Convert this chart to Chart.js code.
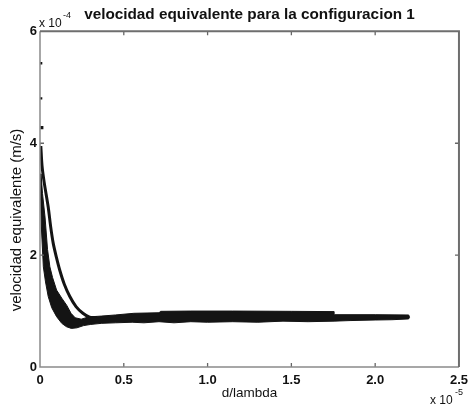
<!DOCTYPE html>
<html><head><meta charset="utf-8">
<script src="https://cdn.jsdelivr.net/npm/chart.js@4.4.1/dist/chart.umd.min.js"></script>
<style>html,body{margin:0;padding:0;background:#fff}</style>
</head><body>
<canvas id="c" width="474" height="409"></canvas>
<script>
// ---- data ----
const titleText = 'velocidad equivalente para la configuracion 1';
const xLabel = 'd/lambda';
const yLabel = 'velocidad equivalente (m/s)';
const xTickStep = 0.5, xMin = 0, xMax = 2.5;
const yTickStep = 2, yMin = 0, yMax = 6;
const xInnerTicks = [0.5, 1, 1.5, 2];
const yInnerTicks = [2, 4];

// isolated points near x = 0
const isoX = [0.007, 0.007, 0.011];
const isoY = [5.43, 4.80, 4.28];

// upper (thin) branch
const upperX = [0.005, 0.012, 0.025, 0.049, 0.064, 0.079, 0.098, 0.118, 0.145, 0.178, 0.215, 0.256, 0.296, 0.34];
const upperY = [3.95, 3.60, 3.30, 2.86, 2.50, 2.21, 1.96, 1.73, 1.48, 1.26, 1.08, 0.96, 0.89, 0.885];

// outline of the dense band (lower branch + plateau), traced around
const bandX = [0.002, 0.004, 0.009, 0.020, 0.033, 0.049, 0.070, 0.099, 0.130, 0.158, 0.187, 0.220, 0.260, 0.300, 0.365,
  0.450, 0.550, 0.620, 0.710, 0.800, 0.900, 1.000, 1.150, 1.300, 1.450, 1.600, 1.755, 1.850, 2.000, 2.100, 2.200,
  2.205, 2.200, 2.000, 1.760, 1.755, 1.500, 1.150, 0.900, 0.720, 0.710, 0.560, 0.450, 0.365, 0.290,
  0.246, 0.210, 0.185, 0.160, 0.130, 0.099, 0.075, 0.059, 0.045, 0.030, 0.015, 0.006, 0.002];
const bandY = [3.45, 2.98, 2.45, 1.79, 1.52, 1.26, 1.06, 0.90, 0.78, 0.72, 0.69, 0.70, 0.74, 0.76, 0.78,
  0.79, 0.80, 0.79, 0.81, 0.79, 0.81, 0.80, 0.81, 0.80, 0.82, 0.81, 0.82, 0.83, 0.84, 0.845, 0.86,
  0.89, 0.93, 0.935, 0.935, 0.99, 0.995, 1.00, 1.00, 0.995, 0.97, 0.96, 0.93, 0.91, 0.895,
  0.855, 0.88, 0.96, 1.10, 1.23, 1.375, 1.60, 1.79, 2.10, 2.68, 3.10, 3.45, 3.45];

const toPts = (xs, ys) => xs.map((x, i) => ({x: x, y: ys[i]}));
const INK = '#141414';
const FONT = 'Liberation Sans, Arial, Helvetica, sans-serif';

const framePlugin = {
  id: 'frame',
  afterDatasetsDraw(chart) {
    const {ctx, chartArea: a, scales} = chart;
    const xs = scales.x, ys = scales.y;
    ctx.save();
    // inward ticks
    ctx.strokeStyle = '#666';
    ctx.lineWidth = 1.3;
    ctx.beginPath();
    xInnerTicks.forEach(v => {
      const px = xs.getPixelForValue(v);
      ctx.moveTo(px, a.bottom); ctx.lineTo(px, a.bottom - 4);
      ctx.moveTo(px, a.top); ctx.lineTo(px, a.top + 4);
    });
    yInnerTicks.forEach(v => {
      const py = ys.getPixelForValue(v);
      ctx.moveTo(a.left, py); ctx.lineTo(a.left + 4, py);
      ctx.moveTo(a.right, py); ctx.lineTo(a.right - 4, py);
    });
    ctx.stroke();
    // box
    ctx.strokeStyle = '#8a8a8a';
    ctx.lineWidth = 1.5;
    ctx.beginPath();
    ctx.moveTo(a.left, a.top); ctx.lineTo(a.left, a.bottom); ctx.lineTo(a.right, a.bottom);
    ctx.stroke();
    ctx.strokeStyle = '#6e6e6e';
    ctx.lineWidth = 2;
    ctx.beginPath();
    ctx.moveTo(a.left, a.top); ctx.lineTo(a.right, a.top); ctx.lineTo(a.right, a.bottom);
    ctx.stroke();
    ctx.restore();
  },
  afterDraw(chart) {
    const {ctx, chartArea: a} = chart;
    ctx.save();
    ctx.fillStyle = '#111';
    // y axis label
    ctx.font = '15px ' + FONT;
    ctx.textAlign = 'center';
    ctx.textBaseline = 'middle';
    ctx.translate(17, 220);
    ctx.rotate(-Math.PI / 2);
    ctx.fillText(yLabel, 0, 0);
    ctx.restore();
    ctx.save();
    ctx.fillStyle = '#111';
    ctx.textAlign = 'left';
    ctx.textBaseline = 'alphabetic';
    // y exponent
    ctx.font = '12px ' + FONT;
    ctx.fillText('x 10', a.left - 1, a.top - 4);
    ctx.font = '9px ' + FONT;
    ctx.fillText('-4', a.left + 23, a.top - 13);
    // x exponent
    ctx.font = '12px ' + FONT;
    ctx.fillText('x 10', 430, 404);
    ctx.font = '9px ' + FONT;
    ctx.fillText('-5', 455, 395);
    ctx.restore();
  }
};

new Chart(document.getElementById('c'), {
  type: 'scatter',
  data: {
    datasets: [
      {data: toPts(bandX, bandY), showLine: true, fill: 'shape', backgroundColor: INK, borderColor: INK,
        borderWidth: 1, pointRadius: 0, tension: 0},
      {data: toPts(upperX, upperY), showLine: true, fill: false, borderColor: INK, borderWidth: 3,
        pointRadius: 0, tension: 0.3},
      {data: toPts(isoX, isoY), showLine: false, pointRadius: [1.6, 1.6, 2.2], pointStyle: 'rect',
        backgroundColor: INK, borderColor: INK, borderWidth: 0}
    ]
  },
  options: {
    responsive: false,
    animation: false,
    events: [],
    layout: {padding: {top: 0, right: 11, left: 0, bottom: 0}},
    plugins: {
      legend: {display: false},
      tooltip: {enabled: false},
      title: {display: true, text: titleText, fullSize: false, color: '#111',
        font: {family: FONT, size: 15.3, weight: 'bold'}, padding: {top: 6, bottom: 7}}
    },
    scales: {
      x: {
        type: 'linear', min: xMin, max: xMax,
        ticks: {stepSize: xTickStep, color: '#111', padding: 6, maxRotation: 0,
          font: {family: FONT, size: 13, weight: 'bold'}},
        grid: {display: false, drawTicks: false},
        border: {display: false},
        title: {display: true, text: xLabel, color: '#111', font: {family: FONT, size: 13.5},
          padding: {top: 0, bottom: 8}},
        afterFit: s => { s.height = 42; }
      },
      y: {
        type: 'linear', min: yMin, max: yMax,
        ticks: {stepSize: yTickStep, color: '#111', padding: 3,
          font: {family: FONT, size: 13, weight: 'bold'}},
        grid: {display: false, drawTicks: false},
        border: {display: false},
        afterFit: s => { s.width = 40; }
      }
    }
  },
  plugins: [framePlugin]
});
</script>
</body></html>
